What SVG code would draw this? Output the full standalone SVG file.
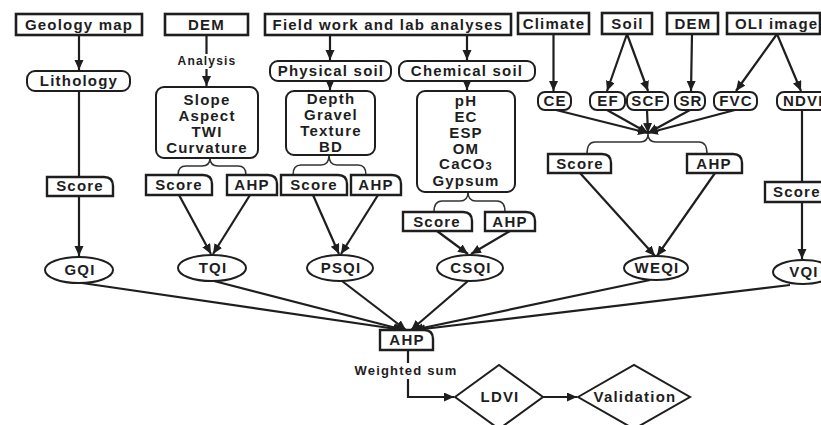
<svg xmlns="http://www.w3.org/2000/svg" width="821" height="425" viewBox="0 0 821 425">
<style>
text{font-family:"Liberation Sans",Arial,sans-serif;font-weight:bold;font-size:15px;letter-spacing:1.2px;fill:#1e1e1e;text-anchor:middle}
.sm{font-size:12px}
.ws{font-size:13px}
.box{fill:#fff;stroke:#1e1e1e;stroke-width:2.6}
.rbox{fill:#fff;stroke:#1e1e1e;stroke-width:2}
.tag{fill:#fff;stroke:#1e1e1e;stroke-width:2.4}
.ell{fill:#fff;stroke:#1e1e1e;stroke-width:2}
.dia{fill:#fff;stroke:#1e1e1e;stroke-width:2}
.c{fill:none;stroke:#1e1e1e;stroke-width:2.2}
.a{marker-end:url(#ah)}
.br{fill:none;stroke:#333;stroke-width:1.5}
</style>
<defs>
<marker id="ah" markerUnits="userSpaceOnUse" markerWidth="11" markerHeight="10" refX="10" refY="4.5" orient="auto">
<path d="M0,0 L10,4.5 L0,9 Z" fill="#1e1e1e"/>
</marker>
</defs>
<rect width="821" height="425" fill="#fff"/>
<g id="connectors">
<path class="c a" d="M79,35 V70"/>
<path class="c" d="M79,91 V177"/>
<path class="c a" d="M79,196 V256"/>
<path class="c a" d="M206.5,35 V86"/>
<path class="c a" d="M330,35 V60"/>
<path class="c a" d="M467,35 V60"/>
<path class="c a" d="M330,81 V90"/>
<path class="c a" d="M467,81 V90"/>
<path class="c a" d="M553.5,34 V91"/>
<path class="c a" d="M627,34 L607,91"/>
<path class="c a" d="M627,34 L648,91"/>
<path class="c a" d="M692,34 L691,91"/>
<path class="c a" d="M777,34 L736,91"/>
<path class="c a" d="M777,34 L801,91"/>
<path class="c a" d="M556,110 L648,133"/>
<path class="c a" d="M607,110 L648,133"/>
<path class="c a" d="M647,110 L648,133"/>
<path class="c a" d="M690,110 L648,133"/>
<path class="c a" d="M735,110 L648,133"/>
<path class="br" d="M178,175 Q178,166 186,166 L202,166 Q210,166 210,158 Q210,166 218,166 L238,166 Q246,166 246,175"/>
<path class="br" d="M293,175 Q293,165 301,165 L321,165 Q329,165 329,155 Q329,165 337,165 L358,165 Q366,165 366,175"/>
<path class="br" d="M434,212 Q434,201 442,201 L460,201 Q468,201 468,192 Q468,201 476,201 L497,201 Q505,201 505,212"/>
<path class="br" d="M587,154 Q587,142 595,142 L640,142 Q648,142 648,134 Q648,142 656,142 L699,142 Q707,142 707,154"/>
<path class="c a" d="M179,195 L211,254"/>
<path class="c a" d="M250,195 L213,254"/>
<path class="c a" d="M313,195 L339,254"/>
<path class="c a" d="M378,195 L341,254"/>
<path class="c a" d="M437,231 L468,254"/>
<path class="c a" d="M510,231 L471,254"/>
<path class="c a" d="M580,173 L655,256"/>
<path class="c a" d="M715,173 L657,256"/>
<path class="c" d="M802,110 V182"/>
<path class="c a" d="M802,202 V259"/>
<path class="c a" d="M82,283 L403,330"/>
<path class="c a" d="M214,281 L404,330"/>
<path class="c a" d="M342,281 L406,330"/>
<path class="c a" d="M468,281 L411,330"/>
<path class="c a" d="M650,280 L413,330"/>
<path class="c a" d="M790,285 L415,330"/>
<path class="c a" d="M408,350 V397 H454"/>
<path class="c a" d="M543,397 H577"/>
<rect x="174" y="54" width="65" height="15" fill="#fff"/>
<text class="sm" x="207" y="65">Analysis</text>
<rect x="352" y="363" width="108" height="16" fill="#fff"/>
<text class="ws" x="406" y="375">Weighted sum</text>
</g>
<g id="geology-map"><rect class="box" x="16" y="14" width="126" height="21"/><text x="79" y="30">Geology map</text></g>
<g id="dem1"><rect class="box" x="165" y="14" width="83" height="21"/><text x="206.5" y="30">DEM</text></g>
<g id="fieldwork"><rect class="box" x="265" y="14" width="246" height="21"/><text x="388" y="30">Field work and lab analyses</text></g>
<g id="climate"><rect class="box" x="518" y="13" width="71" height="21"/><text x="554" y="29">Climate</text></g>
<g id="soil"><rect class="box" x="602" y="13" width="50" height="21"/><text x="627.5" y="29">Soil</text></g>
<g id="dem2"><rect class="box" x="667" y="13" width="51" height="21"/><text x="693" y="29">DEM</text></g>
<g id="oli"><rect class="box" x="727" y="13" width="93" height="21"/><text x="735" y="29" style="text-anchor:start">OLI image</text></g>
<g id="lithology"><rect class="rbox" x="27" y="71" width="103" height="20" rx="8"/><text x="79" y="86">Lithology</text></g>
<g id="terrain"><rect class="rbox" x="156" y="87" width="102" height="71" rx="8"/>
<text x="207" y="105">Slope</text><text x="207" y="121">Aspect</text><text x="207" y="137">TWI</text><text x="207" y="153">Curvature</text></g>
<g id="physical-soil"><rect class="rbox" x="270" y="61" width="121" height="20" rx="8"/><text x="331" y="76">Physical soil</text></g>
<g id="chemical-soil"><rect class="rbox" x="399" y="61" width="136" height="20" rx="8"/><text x="467" y="76">Chemical soil</text></g>
<g id="physical-props"><rect class="rbox" x="286" y="91" width="89" height="64" rx="8"/>
<text x="331" y="104">Depth</text><text x="331" y="120">Gravel</text><text x="331" y="136">Texture</text><text x="331" y="152">BD</text></g>
<g id="chemical-props"><rect class="rbox" x="417" y="91" width="98" height="101" rx="8"/>
<text x="466" y="106">pH</text><text x="466" y="122">EC</text><text x="466" y="138">ESP</text><text x="466" y="154">OM</text>
<text x="466" y="169">CaCO<tspan font-size="11" dy="1">3</tspan></text><text x="466" y="186">Gypsum</text></g>
<g id="ce"><rect class="rbox" x="538" y="92" width="33" height="18" rx="7"/><text x="555" y="106">CE</text></g>
<g id="ef"><rect class="rbox" x="590" y="92" width="35" height="18" rx="7"/><text x="608" y="106">EF</text></g>
<g id="scf"><rect class="rbox" x="627" y="92" width="41" height="18" rx="7"/><text x="648" y="106">SCF</text></g>
<g id="sr"><rect class="rbox" x="675" y="92" width="30" height="18" rx="7"/><text x="691" y="106">SR</text></g>
<g id="fvc"><rect class="rbox" x="714" y="92" width="43" height="18" rx="7"/><text x="736" y="106">FVC</text></g>
<g id="ndvi"><rect class="rbox" x="777" y="92" width="60" height="18" rx="7"/><text x="783" y="106" style="text-anchor:start">NDVI</text></g>
<g id="score-gqi"><path class="tag" d="M47,177 H104 Q113,177 113,186 V196 H47 Z"/><text x="80" y="191">Score</text></g>
<g id="score-tqi"><path class="tag" d="M146,175 H203 Q212,175 212,184 V195 H146 Z"/><text x="179" y="190">Score</text></g>
<g id="ahp-tqi"><path class="tag" d="M227,175 H268 Q277,175 277,184 V195 H227 Z"/><text x="252" y="190">AHP</text></g>
<g id="score-psqi"><path class="tag" d="M281,175 H338 Q347,175 347,184 V195 H281 Z"/><text x="314" y="190">Score</text></g>
<g id="ahp-psqi"><path class="tag" d="M351,175 H392 Q401,175 401,184 V195 H351 Z"/><text x="376" y="190">AHP</text></g>
<g id="score-csqi"><path class="tag" d="M403,212 H463 Q472,212 472,221 V231 H403 Z"/><text x="437" y="227">Score</text></g>
<g id="ahp-csqi"><path class="tag" d="M485,212 H526 Q535,212 535,221 V231 H485 Z"/><text x="510" y="227">AHP</text></g>
<g id="score-weqi"><path class="tag" d="M548,154 H602 Q611,154 611,163 V173 H548 Z"/><text x="580" y="169">Score</text></g>
<g id="ahp-weqi"><path class="tag" d="M687,154 H733 Q742,154 742,163 V173 H687 Z"/><text x="714" y="169">AHP</text></g>
<g id="score-vqi"><path class="tag" d="M765,182 H826 Q835,182 835,191 V202 H765 Z"/><text x="773" y="197" style="text-anchor:start">Score</text></g>
<g id="gqi"><ellipse class="ell" cx="79" cy="270" rx="34" ry="13"/><text x="80" y="275">GQI</text></g>
<g id="tqi"><ellipse class="ell" cx="212" cy="268" rx="34" ry="13"/><text x="213" y="273">TQI</text></g>
<g id="psqi"><ellipse class="ell" cx="340" cy="268" rx="33" ry="13"/><text x="341" y="273">PSQI</text></g>
<g id="csqi"><ellipse class="ell" cx="470" cy="268" rx="33" ry="13"/><text x="471" y="273">CSQI</text></g>
<g id="weqi"><ellipse class="ell" cx="656" cy="268" rx="32" ry="12"/><text x="657" y="273">WEQI</text></g>
<g id="vqi"><ellipse class="ell" cx="803" cy="272" rx="30" ry="12"/><text x="804" y="277">VQI</text></g>
<g id="ahp-main"><path class="tag" d="M380,330 H424 Q433,330 433,339 V350 H380 Z"/><text x="407" y="345">AHP</text></g>
<g id="ldvi"><polygon class="dia" points="455,397 499,365 543,397 499,429"/><text x="500" y="402">LDVI</text></g>
<g id="validation"><polygon class="dia" points="578,397 634,365 690,397 634,429"/><text x="635" y="402">Validation</text></g>
</svg>
